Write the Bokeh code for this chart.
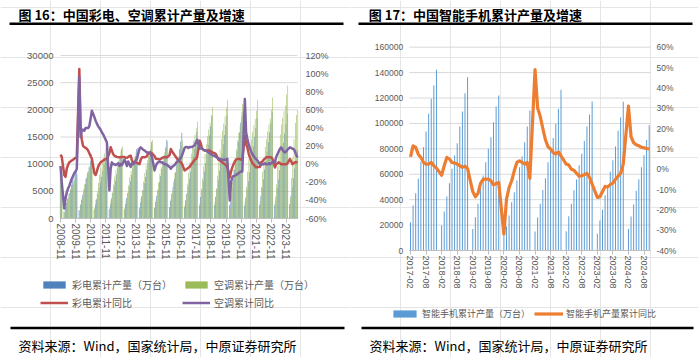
import math
from bokeh.plotting import figure
from bokeh.models import (ColumnDataSource, Range1d, LinearAxis, FixedTicker,
                          PrintfTickFormatter, Legend, LegendItem)
from bokeh.layouts import row
from bokeh.embed import file_html
from bokeh.resources import INLINE
from bokeh.core.properties import value

NAN = float("nan")

# ---------------- Figure 16 data (monthly cumulative, Jan not reported) ----------------
f16_title = "图 16：中国彩电、空调累计产量及增速"
f16_tick_labels = ["2008-11", "2009-11", "2010-11", "2011-11", "2012-11", "2013-11",
                   "2014-11", "2015-11", "2016-11", "2017-11", "2018-11", "2019-11",
                   "2020-11", "2021-11", "2022-11", "2023-11"]
f16_series = ["彩电累计产量（万台）", "空调累计产量（万台）", "彩电累计同比", "空调累计同比"]

# 2008-11 .. 2024-08, Feb..Dec each year
tv_output = [
    8200, 9033,
    1287, 2079, 2871, 3663, 4554, 5345, 6236, 7127, 8018, 8909, 9899,
    1538, 2484, 3431, 4377, 5442, 6388, 7453, 8518, 9582, 10647, 11830,
    1590, 2569, 3547, 4525, 5626, 6605, 7706, 8806, 9907, 11008, 12231,
    1667, 2693, 3719, 4745, 5899, 6925, 8079, 9233, 10387, 11542, 12824,
    1661, 2683, 3705, 4727, 5877, 6899, 8049, 9199, 10349, 11498, 12776,
    1837, 2967, 4097, 5228, 6499, 7630, 8901, 10173, 11444, 12716, 14129,
    1882, 3040, 4198, 5356, 6659, 7817, 9120, 10423, 11726, 13028, 14476,
    2050, 3312, 4573, 5835, 7254, 8516, 9935, 11354, 12774, 14193, 15770,
    2071, 3346, 4621, 5895, 7329, 8604, 10038, 11472, 12906, 14340, 15933,
    2449, 3955, 5462, 6969, 8664, 10171, 11866, 13561, 15256, 16952, 18835,
    2470, 3990, 5510, 7030, 8740, 10259, 11969, 13679, 15389, 17099, 18999,
    2551, 4121, 5692, 7262, 9028, 10598, 12364, 14131, 15897, 17663, 19626,
    2405, 3884, 5364, 6844, 8509, 9988, 11653, 13318, 14983, 16647, 18497,
    2545, 4111, 5678, 7244, 9006, 10572, 12334, 14096, 15858, 17620, 19578,
    2514, 4061, 5608, 7155, 8896, 10443, 12184, 13924, 15665, 17405, 19339,
    2600, 4200, 5800, 7400, 9200, 10800, 12600,
]
ac_output = [
    7650, 8231,
    1131, 2020, 2908, 3797, 4685, 5412, 5978, 6462, 6947, 7513, 8078,
    1524, 2722, 3919, 5117, 6314, 7294, 8056, 8710, 9363, 10125, 10887,
    1948, 3478, 5008, 6539, 8069, 9321, 10295, 11130, 11964, 12938, 13912,
    1859, 3320, 4781, 6242, 7703, 8898, 9828, 10625, 11422, 12351, 13281,
    1828, 3264, 4701, 6137, 7573, 8748, 9662, 10446, 11229, 12143, 13057,
    2025, 3616, 5207, 6798, 8389, 9690, 10703, 11570, 12438, 13451, 14463,
    1988, 3550, 5112, 6674, 8236, 9514, 10508, 11360, 12212, 13206, 14200,
    2008, 3586, 5163, 6741, 8318, 9609, 10613, 11474, 12334, 13338, 14342,
    2501, 4466, 6430, 8395, 10360, 11968, 13218, 14290, 15361, 16612, 17862,
    2868, 5122, 7375, 9628, 11882, 13726, 15160, 16389, 17618, 19052, 20486,
    3061, 5467, 7872, 10277, 12682, 14650, 16181, 17493, 18805, 20335, 21866,
    1840, 4370, 6720, 8940, 11070, 12800, 14400, 15740, 17110, 18710, 21064,
    3160, 5900, 8600, 10900, 13070, 14590, 15980, 17160, 18300, 19780, 21836,
    3160, 5850, 8600, 10950, 13200, 14600, 16000, 17300, 18400, 20000, 22247,
    3220, 6320, 9550, 12480, 15440, 17320, 18560, 19720, 20790, 22810, 24487,
    3820, 7460, 11180, 14580, 17600, 19050, 20000,
]
tv_yoy = [
    10.5, 8,
    -12, -14, -5, -1, 2, 3, 4, 5, 6, 7, 7.5,
    105, 40, 27, 20, 19, 18, 17, 15, 12, 9, 6,
    -10, -12, -8, -3, 0, 2, 3, 4, 5, 5.7, 6,
    12, 18.6, 15, 11, 9.4, 8.5, 8, 7.6, 7.6, 7.6, 8,
    8, 7, 7, 8, 9, 9.4, 4, 2, 2, 2, 1.5,
    0, 5, 7.6, 7.6, 7.6, 8, 9, 12, 13, 13, 12,
    9, 6, 5.7, 5.7, 5, 5.7, 7, 7.6, 7.6, 7.6, 7.6,
    10, 16.8, 14, 12, 10, 8, 6, 4, 3, 2, 0,
    -7, -6, -5, -4, -3, -1, 1, 3, 5, 5.7, 8,
    26, 22, 17, 16, 15, 15, 15, 15, 15, 14, 13,
    12, 11, 8, 5, 3.8, 3, 2, 1, 0, -1, -3.6,
    -14.6, -8, -3.6, 0, 3, 5, 5.7, 5.7, 5.7, 5, 5,
    31.5, 22, 18.6, 12, 7.6, 4, 1, 0, -2, -3.6, -3,
    -3, 2, 3, 5, 6, 7.6, 7.6, 7.6, 7.6, 7.6, 6,
    -3.6, 0, 1, 2, 1, 0, 0, 0, 0, 0, 1,
    5.7, 3, 0, 1, 2, 2, 2,
]
ac_yoy = [
    -2, -20,
    -49, -38, -31, -27, -24, -20, -16, -13, -10, -8, -5,
    96, 30, 38, 38, 37, 40, 40, 40, 42, 50, 59,
    52, 48, 45, 42, 40, 38, 35, 33, 30, 27, 24,
    -29, -5, 2, 0, 0, -1, 0, 1, -2, 0, -1,
    5, 2, -2, 3, 0, -3, 1, 0, 2, 4, 6,
    17, 18.6, 17, 16, 15, 14, 13, 13, 12, 11, 8,
    -7, -2, 1, 2, 3, 2, 2, 1, 0, 0, -1,
    -3, -5, -3, -2, -1, 1, 3, 4, 5, 7, 10,
    18, 19, 19, 18, 19, 19, 19, 20, 21, 24, 27,
    17, 18, 17, 16, 15, 15, 14, 13, 12, 11, 10,
    9, 8, 7, 6, 6, 5, 5, 5, 5, 5, 6,
    -40, -20, -14.6, -13, -12.7, -12, -11, -10, -9, -8, -8,
    72, 35, 28, 22, 18, 14, 11, 9, 7, 5.7, 4,
    0, -1, 0, 0, 1, 0, 0, 1, 0, 1, 2,
    2, 8, 11, 14, 17, 18.6, 16, 14, 13, 14, 16,
    18.6, 18, 17, 16.8, 14, 10, 7.6,
]

# ---------------- Figure 17 data (2017-02 .. 2024-10, Jan empty) ----------------
f17_title = "图 17：中国智能手机累计产量及增速"
f17_tick_labels = ["2017-02", "2017-08", "2018-02", "2018-08", "2019-02", "2019-08",
                   "2020-02", "2020-08", "2021-02", "2021-08", "2022-02", "2022-08",
                   "2023-02", "2023-08", "2024-02", "2024-08"]
f17_series = ["智能手机累计产量（万台）", "智能手机产量累计同比"]
phone_output = [
    22300, 35400, 45100, 56400, 69500, 81300, 93700, 107600, 119400, 129900, 142200,
    NAN, 19700, 30700, 42500, 53000, 64300, 74800, 84500, 97600, 109400, 123800, 136400,
    NAN, 17000, 26200, 36700, 49800, 59000, 69500, 80000, 89200, 101000, 113300, 122000,
    NAN, 11600, 18900, 27500, 38000, 45900, 55100, 65600, 74000, 85200, 97600, 110200,
    NAN, 15000, 26000, 36700, 47700, 56900, 69500, 78700, 88600, 99700, 111500, 126500,
    NAN, 15200, 26900, 36700, 47500, 55800, 67100, 76200, 86200, 97600, 107000, 117300,
    NAN, 13100, 23600, 32000, 43500, 50900, 62000, 71000, 81900, 94200, 104900, 117000,
    NAN, 17100, 26800, 36200, 47000, 56000, 65500, 75000, 87000, 98500,
]
phone_yoy = [
    6, 11.5, 10.7, 7.4, 5.8, 3.3, 2.5, 2.5, 3.3, 1.7, 0.5,
    NAN, -3, 1.7, 5.8, 5, 3.3, 3, 2.5, 1.7, 0.9, 1.5, 0.3,
    NAN, -11, -13.6, -12, -7, -5, -4.9, -4.9, -5.7, -7.7, -7, -6.5,
    NAN, -32, -14.7, -9, -5.7, -0.8, 3.3, 4.1, 3.3, 2.5, 3.3, -4.5,
    NAN, 49, 30, 26, 20, 14.5, 11, 9.9, 8.2, 7.4, 8.5, 6.6,
    NAN, 2.5, 2, 0, -0.5, -2, -3.5, -3.2, -2.7, -2.1, -4, -7.3,
    NAN, -13.9, -13.6, -11, -8.5, -8.7, -7.6, -6.8, -5, -3.5, -2, 2.5,
    NAN, 31, 16, 13, 12, 11.5, 10.8, 10.5, 10.2, 9.9,
]

source_note = "资料来源：Wind，国家统计局，中原证券研究所"

CJK = "Noto Sans CJK SC"
LAT = "Liberation Sans"
GREY = "#595959"
GRID = "#d9d9d9"
H = 357  # panel height in px


def lin_range(d0, d1, p0, p1, total):
    """Range whose values d0..d1 land on pixels p0..p1 of a frame 'total' px long."""
    k = (d1 - d0) / (p1 - p0)
    return Range1d(start=d0 - p0 * k, end=d1 + (total - p1) * k)


def panel(width, title, title_x, rule_x, foot_rule_x, foot_x):
    p = figure(width=width, height=H, x_range=Range1d(0, width), y_range=Range1d(0, H),
               output_backend="svg", toolbar_location=None, min_border=0,
               x_axis_location=None, y_axis_location=None)
    p.outline_line_color = None
    p.background_fill_color = "white"
    p.border_fill_color = "white"
    # header
    p.segment(x0=[rule_x[0]], y0=[H - 23.3], x1=[rule_x[1]], y1=[H - 23.3],
              line_color="black", line_width=2.5)
    p.text(x=[title_x], y=[H - 14], text=[title], text_font=value(CJK), text_font_style="bold",
           text_font_size="13px", text_baseline="middle", text_align="left", text_color="black")
    # footer
    p.segment(x0=[foot_rule_x[0]], y0=[H - 327.5], x1=[foot_rule_x[1]], y1=[H - 327.5],
              line_color="black", line_width=2.5)
    p.text(x=[foot_x], y=[H - 345], text=[source_note], text_font=value(CJK),
           text_font_size="13px", text_baseline="middle", text_align="left", text_color="black")
    return p


def y_axis(p, side, xname, yname, loc, ticks, fmt, size, standoff):
    ax = LinearAxis(x_range_name=xname, y_range_name=yname, fixed_location=loc,
                    ticker=FixedTicker(ticks=ticks), formatter=PrintfTickFormatter(format=fmt))
    ax.axis_line_color = None
    ax.major_tick_line_color = None
    ax.minor_tick_line_color = None
    ax.major_tick_out = 0
    ax.major_tick_in = 0
    ax.major_label_standoff = standoff
    ax.major_label_text_font = LAT
    ax.major_label_text_font_size = size
    ax.major_label_text_color = GREY
    p.add_layout(ax, side)
    return ax


def x_axis(p, xname, yname, loc, bounds, ticks, labels, size, standoff):
    ax = LinearAxis(x_range_name=xname, y_range_name=yname, fixed_location=loc, bounds=bounds,
                    ticker=FixedTicker(ticks=ticks))
    ax.major_label_overrides = {t: l for t, l in zip(ticks, labels)}
    ax.axis_line_color = "#bfbfbf"
    ax.major_tick_line_color = "#bfbfbf"
    ax.minor_tick_line_color = None
    ax.major_tick_out = 4
    ax.major_tick_in = 0
    ax.major_label_orientation = "vertical"
    ax.major_label_standoff = standoff
    ax.major_label_text_font = LAT
    ax.major_label_text_font_size = size
    ax.major_label_text_color = GREY
    p.add_layout(ax, "below")
    return ax


# ================= Left panel (Figure 16) =================
W1 = 350
p1 = panel(W1, f16_title, 18, (9, 343), (10, 344), 18)
x0_, x1_ = 0, 189
p1.extra_x_ranges = {"cx": lin_range(x0_, x1_, 60, 297, W1)}
p1.extra_y_ranges = {"cy": lin_range(0, 30000, H - 218, H - 55, H),
                     "pct": lin_range(-60, 120, H - 218, H - 55, H)}

left_idx = []
for y in range(2008, 2025):
    for m in range(2, 13):
        i = (y - 2008) * 12 + (m - 11)
        if x0_ <= i <= x1_:
            left_idx.append(i)
left_ticks = [k * 12 for k in range(len(f16_tick_labels))]
y1_ticks = [0, 5000, 10000, 15000, 20000, 25000, 30000]

p1.segment(x0=[x0_] * len(y1_ticks), x1=[x1_] * len(y1_ticks), y0=y1_ticks, y1=y1_ticks,
           x_range_name="cx", y_range_name="cy", line_color=GRID, line_width=1)

src1 = ColumnDataSource(dict(
    x_tv=[i - 0.23 for i in left_idx], x_ac=[i + 0.23 for i in left_idx], x=left_idx,
    tv=tv_output, ac=ac_output, tvy=tv_yoy, acy=ac_yoy))
r_tv = p1.vbar(x="x_tv", top="tv", width=0.46, source=src1, x_range_name="cx", y_range_name="cy",
               fill_color="#4F81BD", line_color=None)
r_ac = p1.vbar(x="x_ac", top="ac", width=0.46, source=src1, x_range_name="cx", y_range_name="cy",
               fill_color="#9BBB59", line_color=None)
r_tvy = p1.line(x="x", y="tvy", source=src1, x_range_name="cx", y_range_name="pct",
                line_color="#C0504D", line_width=2.5, line_join="round")
r_acy = p1.line(x="x", y="acy", source=src1, x_range_name="cx", y_range_name="pct",
                line_color="#8064A2", line_width=2.5, line_join="round")

y_axis(p1, "left", "cx", "cy", x0_, y1_ticks, "%d", "9.5px", 7)
y_axis(p1, "right", "cx", "pct", x1_, list(range(-60, 121, 20)), "%d%%", "9px", 8)
x_axis(p1, "cx", "cy", 0, (x0_, x1_), left_ticks, f16_tick_labels, "10px", 1)

leg1 = Legend(items=[LegendItem(label=f16_series[0], renderers=[r_tv]),
                     LegendItem(label=f16_series[1], renderers=[r_ac]),
                     LegendItem(label=f16_series[2], renderers=[r_tvy]),
                     LegendItem(label=f16_series[3], renderers=[r_acy])],
              location=(40, 47), orientation="horizontal", ncols=2,
              glyph_width=28, glyph_height=9, label_standoff=4, spacing=3,
              label_width=107, label_height=13, padding=0, margin=0,
              border_line_color=None, background_fill_alpha=0,
              label_text_font=CJK, label_text_font_size="10px", label_text_color=GREY)
p1.add_layout(leg1)

# ================= Right panel (Figure 17) =================
W2 = 348
p2 = panel(W2, f17_title, 18.3, (8, 342), (11, 343), 19)
rx0, rx1 = -0.5, 92.5
p2.extra_x_ranges = {"cx": lin_range(rx0, rx1, 58.7, 300, W2)}
p2.extra_y_ranges = {"cy": lin_range(0, 160000, H - 250, H - 46.7, H),
                     "pct": lin_range(-40, 60, H - 250, H - 46.7, H)}

right_idx_all = list(range(len(phone_output)))
right_ticks = [k * 6 for k in range(len(f17_tick_labels))]
y2_ticks = list(range(0, 160001, 20000))

p2.segment(x0=[rx0] * len(y2_ticks), x1=[rx1] * len(y2_ticks), y0=y2_ticks, y1=y2_ticks,
           x_range_name="cx", y_range_name="cy", line_color=GRID, line_width=1)

bx = [i for i, v in zip(right_idx_all, phone_output) if not math.isnan(v)]
bv = [v for v in phone_output if not math.isnan(v)]
lx = [i for i, v in zip(right_idx_all, phone_yoy) if not math.isnan(v)]
lv = [v for v in phone_yoy if not math.isnan(v)]
src_b = ColumnDataSource(dict(x=bx, top=bv))
src_l = ColumnDataSource(dict(x=lx, y=lv))

r_ph = p2.vbar(x="x", top="top", width=0.38, source=src_b, x_range_name="cx", y_range_name="cy",
               fill_color="#5B9BD5", line_color=None)
r_phy = p2.line(x="x", y="y", source=src_l, x_range_name="cx", y_range_name="pct",
                line_color="#ED7D31", line_width=3.2, line_join="round")

y_axis(p2, "left", "cx", "cy", rx0, y2_ticks, "%d", "8.5px", 6)
y_axis(p2, "right", "cx", "pct", rx1, list(range(-40, 61, 10)), "%d%%", "8.5px", 6)
x_axis(p2, "cx", "cy", 0, (rx0, rx1), right_ticks, f17_tick_labels, "9px", 1)

leg2 = Legend(items=[LegendItem(label=f17_series[0], renderers=[r_ph]),
                     LegendItem(label=f17_series[1], renderers=[r_phy])],
              location=(40, 37), orientation="horizontal",
              glyph_width=29, glyph_height=9, label_standoff=3, spacing=4,
              padding=0, margin=0, border_line_color=None, background_fill_alpha=0,
              label_text_font=CJK, label_text_font_size="9px", label_text_color=GREY)
p2.add_layout(leg2)

layout = row(p1, p2, spacing=0)
open("out.html", "w").write(file_html(layout, INLINE))
